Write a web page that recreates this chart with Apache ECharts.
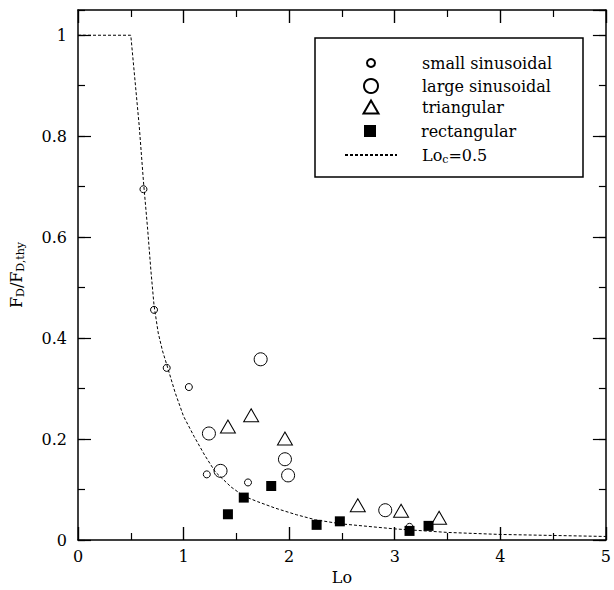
<!DOCTYPE html>
<html>
<head>
<meta charset="utf-8">
<script src="https://cdn.jsdelivr.net/npm/echarts@6/dist/echarts.min.js"></script>
<style>
  html, body { margin: 0; padding: 0; background: #fff; }
  #chart { width: 614px; height: 590px; background: #fff; }
</style>
</head>
<body>
<div id="chart"></div>
<script>
// values
var smallX = [0.62, 0.72, 0.84, 1.05, 1.22, 1.61, 3.14];
var smallY = [0.695, 0.456, 0.341, 0.303, 0.130, 0.114, 0.026];

var largeX = [1.24, 1.35, 1.73, 1.96, 1.99, 2.91];
var largeY = [0.211, 0.137, 0.358, 0.160, 0.128, 0.059];

var triX = [1.42, 1.64, 1.96, 2.65, 3.06, 3.42];
var triY = [0.225, 0.247, 0.201, 0.069, 0.058, 0.044];

var rectX = [1.42, 1.57, 1.83, 2.26, 2.48, 3.14, 3.32];
var rectY = [0.051, 0.084, 0.107, 0.030, 0.037, 0.018, 0.028];

// dashed Lo_c = 0.5 curve
var curveX = [0, 0.5, 0.54, 0.58, 0.62, 0.66, 0.69, 0.72, 0.76, 0.80, 0.85, 0.92, 1.0, 1.1, 1.2, 1.3, 1.45, 1.57, 1.7, 1.87, 2.07, 2.25, 2.49, 3.0, 3.5, 4.0, 4.5, 5.0];
var curveY = [1, 1, 0.91, 0.82, 0.71, 0.615, 0.535, 0.465, 0.41, 0.375, 0.341, 0.292, 0.245, 0.205, 0.168, 0.135, 0.105, 0.087, 0.076, 0.063, 0.050, 0.040, 0.032, 0.022, 0.015, 0.011, 0.009, 0.007];

var names = ['small sinusoidal', 'large sinusoidal', 'triangular', 'rectangular', 'Loc'];

function pairs(xs, ys) {
  return xs.map(function (x, i) { return [x, ys[i]]; });
}

var font = 'DejaVu Serif';
var ink = 'black';
var openStyle = { color: 'rgba(0,0,0,0)', borderColor: ink, borderWidth: 1, opacity: 1 };
var textX = 421;   // where legend text starts
var iconX = 370;   // legend icon centre

// one legend per row so each icon can have its own size
function legendRow(name, top, w, h, label, extra) {
  var left = iconX - w / 2;
  var gap = textX - (left + w + 5);
  var l = {
    data: [name],
    left: left,
    top: top,
    orient: 'vertical',
    padding: 0,
    itemWidth: w,
    itemHeight: h,
    selectedMode: false,
    formatter: function () { return '{g| }' + label; },
    textStyle: {
      fontFamily: font, fontSize: 16, color: ink, lineHeight: 18,
      rich: {
        g: { width: gap },
        t: { fontFamily: font, fontSize: 16, color: ink },
        s: { fontFamily: font, fontSize: 11, color: ink, padding: [8, 0, 0, 0] }
      }
    }
  };
  if (extra) {
    for (var k in extra) l[k] = extra[k];
  }
  return l;
}

// frame axis: line + inward ticks, no labels unless given
function frameAxis(pos, min, max, interval, tickLen, withLine, extra) {
  var a = {
    type: 'value', min: min, max: max, interval: interval, position: pos,
    axisLine: { show: withLine, onZero: false, lineStyle: { color: ink, width: 1.5 } },
    axisTick: { show: true, inside: true, length: tickLen, lineStyle: { color: ink, width: 1.2 } },
    axisLabel: { show: false },
    splitLine: { show: false }
  };
  if (extra) {
    for (var k in extra) a[k] = extra[k];
  }
  return a;
}

// x ticks at 1..4 again as minor ticks of a 0..5 interval
function xMinorMajors(pos) {
  return frameAxis(pos, 0, 5, 5, 13, false, {
    minorTick: { show: true, splitNumber: 5, length: 13, lineStyle: { color: ink, width: 1.2 } }
  });
}

var chart = echarts.init(document.getElementById('chart'), null, { renderer: 'svg' });
chart.setOption({
  animation: false,
  grid: { left: 78, right: 4, top: 10, bottom: 46.5 },
  xAxis: [
    frameAxis('bottom', 0, 5, 1, 13, true, {
      name: 'Lo', nameLocation: 'middle', nameGap: 29,
      nameTextStyle: { fontFamily: font, fontSize: 16, color: ink },
      axisLabel: { fontFamily: font, fontSize: 16, color: ink, margin: 8 },
      minorTick: { show: true, splitNumber: 2, length: 7, lineStyle: { color: ink, width: 1.2 } }
    }),
    xMinorMajors('bottom'),
    frameAxis('top', 0, 5, 1, 13, true, {
      minorTick: { show: true, splitNumber: 2, length: 7, lineStyle: { color: ink, width: 1.2 } }
    }),
    xMinorMajors('top')
  ],
  yAxis: [
    frameAxis('left', 0, 1.05, 0.2, 13, true, {
      name: '{t|F}{s|D}{t|/F}{s|D,thy}', nameLocation: 'middle', nameGap: 52,
      nameTextStyle: {
        fontFamily: font, color: ink,
        rich: {
          t: { fontFamily: font, fontSize: 16, color: ink },
          s: { fontFamily: font, fontSize: 11, color: ink, padding: [8, 0, 0, 0] }
        }
      },
      axisLabel: { fontFamily: font, fontSize: 16, color: ink, margin: 11, showMaxLabel: false }
    }),
    frameAxis('left', 0, 1.05, 0.1, 7, false),
    frameAxis('right', 0, 1.05, 0.2, 13, true),
    frameAxis('right', 0, 1.05, 0.1, 7, false)
  ],
  graphic: [{
    type: 'rect',
    shape: { x: 315, y: 38, width: 268, height: 139 },
    style: { fill: 'none', stroke: ink, lineWidth: 1.5 },
    silent: true
  }],
  legend: [
    legendRow(names[0], 54, 8, 8, names[0]),
    legendRow(names[1], 77, 14, 14, names[1]),
    legendRow(names[2], 98, 15, 13, names[2]),
    legendRow(names[3], 122, 12, 12, names[3]),
    legendRow(names[4], 146, 52, 14, '{t|Lo}{s|c}{t|=0.5}', {
      itemStyle: { color: 'rgba(0,0,0,0)', borderColor: 'rgba(0,0,0,0)', borderWidth: 0, opacity: 0 }
    })
  ],
  series: [{
    name: names[4],
    type: 'line',
    data: pairs(curveX, curveY),
    symbol: 'none',
    silent: true,
    itemStyle: { color: ink },
    lineStyle: { color: ink, width: 1, type: [3, 2] },
    z: 1
  }, {
    name: names[0],
    type: 'scatter',
    data: pairs(smallX, smallY),
    symbol: 'circle',
    symbolSize: 7,
    silent: true,
    itemStyle: openStyle,
    z: 2
  }, {
    name: names[1],
    type: 'scatter',
    data: pairs(largeX, largeY),
    symbol: 'circle',
    symbolSize: 13,
    silent: true,
    itemStyle: openStyle,
    z: 2
  }, {
    name: names[2],
    type: 'scatter',
    data: pairs(triX, triY),
    symbol: 'triangle',
    symbolSize: [15, 13],
    silent: true,
    itemStyle: openStyle,
    z: 2
  }, {
    name: names[3],
    type: 'scatter',
    data: pairs(rectX, rectY),
    symbol: 'rect',
    symbolSize: 10,
    silent: true,
    itemStyle: { color: ink, opacity: 1 },
    z: 3
  }]
});
</script>
</body>
</html>
